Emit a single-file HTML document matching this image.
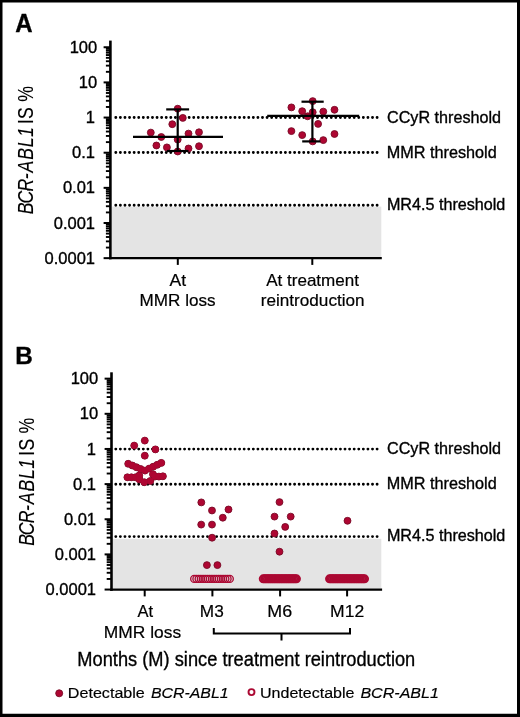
<!DOCTYPE html>
<html><head><meta charset="utf-8"><style>
html,body{margin:0;padding:0;background:#fff;}
svg{display:block;}
text{font-family:"Liberation Sans",sans-serif;fill:#000;font-kerning:none;stroke:#000;stroke-width:0.35px;}
</style></head><body>
<svg style="will-change:transform" width="520" height="717" viewBox="0 0 520 717">
<rect x="0" y="0" width="520" height="717" fill="#fff"/>
<text x="15.20" y="32.20" font-size="26.3" textLength="17.33" lengthAdjust="spacingAndGlyphs"><tspan font-weight="bold">A</tspan></text>
<rect x="112" y="206.6" width="269.3" height="51" fill="#e4e4e4"/>
<line x1="115.8" y1="117.5" x2="377.6" y2="117.5" stroke="#000" stroke-width="2.9" stroke-linecap="round" stroke-dasharray="0 4.5842"/>
<line x1="115.8" y1="152.5" x2="377.6" y2="152.5" stroke="#000" stroke-width="2.9" stroke-linecap="round" stroke-dasharray="0 4.5842"/>
<line x1="115.8" y1="205.3" x2="377.6" y2="205.3" stroke="#000" stroke-width="2.9" stroke-linecap="round" stroke-dasharray="0 4.5842"/>
<circle cx="177.7" cy="108.7" r="3.45" fill="#ae0632" stroke="#780a26" stroke-width="0.9"/>
<circle cx="182.8" cy="117.9" r="3.45" fill="#ae0632" stroke="#780a26" stroke-width="0.9"/>
<circle cx="172.3" cy="124.2" r="3.45" fill="#ae0632" stroke="#780a26" stroke-width="0.9"/>
<circle cx="150.8" cy="132.6" r="3.45" fill="#ae0632" stroke="#780a26" stroke-width="0.9"/>
<circle cx="161.3" cy="137.0" r="3.45" fill="#ae0632" stroke="#780a26" stroke-width="0.9"/>
<circle cx="177.7" cy="139.6" r="3.45" fill="#ae0632" stroke="#780a26" stroke-width="0.9"/>
<circle cx="188.5" cy="133.6" r="3.45" fill="#ae0632" stroke="#780a26" stroke-width="0.9"/>
<circle cx="199.0" cy="132.3" r="3.45" fill="#ae0632" stroke="#780a26" stroke-width="0.9"/>
<circle cx="156.4" cy="145.5" r="3.45" fill="#ae0632" stroke="#780a26" stroke-width="0.9"/>
<circle cx="166.9" cy="147.4" r="3.45" fill="#ae0632" stroke="#780a26" stroke-width="0.9"/>
<circle cx="177.7" cy="151.5" r="3.45" fill="#ae0632" stroke="#780a26" stroke-width="0.9"/>
<circle cx="188.5" cy="148.5" r="3.45" fill="#ae0632" stroke="#780a26" stroke-width="0.9"/>
<circle cx="199.0" cy="146.2" r="3.45" fill="#ae0632" stroke="#780a26" stroke-width="0.9"/>
<circle cx="312.7" cy="101.1" r="3.45" fill="#ae0632" stroke="#780a26" stroke-width="0.9"/>
<circle cx="291.4" cy="107.4" r="3.45" fill="#ae0632" stroke="#780a26" stroke-width="0.9"/>
<circle cx="302.2" cy="111.2" r="3.45" fill="#ae0632" stroke="#780a26" stroke-width="0.9"/>
<circle cx="312.7" cy="112.2" r="3.45" fill="#ae0632" stroke="#780a26" stroke-width="0.9"/>
<circle cx="323.3" cy="111.6" r="3.45" fill="#ae0632" stroke="#780a26" stroke-width="0.9"/>
<circle cx="334.5" cy="109.8" r="3.45" fill="#ae0632" stroke="#780a26" stroke-width="0.9"/>
<circle cx="307.6" cy="116.3" r="3.45" fill="#ae0632" stroke="#780a26" stroke-width="0.9"/>
<circle cx="318.1" cy="123.9" r="3.45" fill="#ae0632" stroke="#780a26" stroke-width="0.9"/>
<circle cx="291.4" cy="131.1" r="3.45" fill="#ae0632" stroke="#780a26" stroke-width="0.9"/>
<circle cx="302.2" cy="135.1" r="3.45" fill="#ae0632" stroke="#780a26" stroke-width="0.9"/>
<circle cx="334.5" cy="134.0" r="3.45" fill="#ae0632" stroke="#780a26" stroke-width="0.9"/>
<circle cx="312.7" cy="141.4" r="3.45" fill="#ae0632" stroke="#780a26" stroke-width="0.9"/>
<circle cx="323.3" cy="140.1" r="3.45" fill="#ae0632" stroke="#780a26" stroke-width="0.9"/>
<g stroke="#000" stroke-width="2.2">
<line x1="177.7" y1="109.4" x2="177.7" y2="151" />
<line x1="166.2" y1="109.4" x2="189.1" y2="109.4" />
<line x1="166.9" y1="151" x2="188.5" y2="151" />
<line x1="133" y1="136.9" x2="223" y2="136.9" stroke-width="2.4"/>
<line x1="312.4" y1="101.7" x2="312.4" y2="141.4" />
<line x1="301.5" y1="101.7" x2="323.7" y2="101.7" />
<line x1="302.2" y1="141.4" x2="320.4" y2="141.4" />
<line x1="267.2" y1="115.9" x2="359.2" y2="115.9" stroke-width="2.4"/>
</g>
<line x1="110.4" y1="40.6" x2="110.4" y2="259.3" stroke="#000" stroke-width="2.6"/>
<line x1="103.6" y1="258.15" x2="110.4" y2="258.15" stroke="#000" stroke-width="2"/>
<line x1="105.9" y1="247.57" x2="110.4" y2="247.57" stroke="#000" stroke-width="1.9"/>
<line x1="105.9" y1="241.38" x2="110.4" y2="241.38" stroke="#000" stroke-width="1.9"/>
<line x1="105.9" y1="236.99" x2="110.4" y2="236.99" stroke="#000" stroke-width="1.9"/>
<line x1="105.9" y1="233.58" x2="110.4" y2="233.58" stroke="#000" stroke-width="1.9"/>
<line x1="105.9" y1="230.80" x2="110.4" y2="230.80" stroke="#000" stroke-width="1.9"/>
<line x1="105.9" y1="228.44" x2="110.4" y2="228.44" stroke="#000" stroke-width="1.9"/>
<line x1="105.9" y1="226.41" x2="110.4" y2="226.41" stroke="#000" stroke-width="1.9"/>
<line x1="105.9" y1="224.61" x2="110.4" y2="224.61" stroke="#000" stroke-width="1.9"/>
<line x1="103.6" y1="223.00" x2="110.4" y2="223.00" stroke="#000" stroke-width="2"/>
<line x1="105.9" y1="212.42" x2="110.4" y2="212.42" stroke="#000" stroke-width="1.9"/>
<line x1="105.9" y1="206.23" x2="110.4" y2="206.23" stroke="#000" stroke-width="1.9"/>
<line x1="105.9" y1="201.84" x2="110.4" y2="201.84" stroke="#000" stroke-width="1.9"/>
<line x1="105.9" y1="198.43" x2="110.4" y2="198.43" stroke="#000" stroke-width="1.9"/>
<line x1="105.9" y1="195.65" x2="110.4" y2="195.65" stroke="#000" stroke-width="1.9"/>
<line x1="105.9" y1="193.29" x2="110.4" y2="193.29" stroke="#000" stroke-width="1.9"/>
<line x1="105.9" y1="191.26" x2="110.4" y2="191.26" stroke="#000" stroke-width="1.9"/>
<line x1="105.9" y1="189.46" x2="110.4" y2="189.46" stroke="#000" stroke-width="1.9"/>
<line x1="103.6" y1="187.85" x2="110.4" y2="187.85" stroke="#000" stroke-width="2"/>
<line x1="105.9" y1="177.27" x2="110.4" y2="177.27" stroke="#000" stroke-width="1.9"/>
<line x1="105.9" y1="171.08" x2="110.4" y2="171.08" stroke="#000" stroke-width="1.9"/>
<line x1="105.9" y1="166.69" x2="110.4" y2="166.69" stroke="#000" stroke-width="1.9"/>
<line x1="105.9" y1="163.28" x2="110.4" y2="163.28" stroke="#000" stroke-width="1.9"/>
<line x1="105.9" y1="160.50" x2="110.4" y2="160.50" stroke="#000" stroke-width="1.9"/>
<line x1="105.9" y1="158.14" x2="110.4" y2="158.14" stroke="#000" stroke-width="1.9"/>
<line x1="105.9" y1="156.11" x2="110.4" y2="156.11" stroke="#000" stroke-width="1.9"/>
<line x1="105.9" y1="154.31" x2="110.4" y2="154.31" stroke="#000" stroke-width="1.9"/>
<line x1="103.6" y1="152.70" x2="110.4" y2="152.70" stroke="#000" stroke-width="2"/>
<line x1="105.9" y1="142.12" x2="110.4" y2="142.12" stroke="#000" stroke-width="1.9"/>
<line x1="105.9" y1="135.93" x2="110.4" y2="135.93" stroke="#000" stroke-width="1.9"/>
<line x1="105.9" y1="131.54" x2="110.4" y2="131.54" stroke="#000" stroke-width="1.9"/>
<line x1="105.9" y1="128.13" x2="110.4" y2="128.13" stroke="#000" stroke-width="1.9"/>
<line x1="105.9" y1="125.35" x2="110.4" y2="125.35" stroke="#000" stroke-width="1.9"/>
<line x1="105.9" y1="122.99" x2="110.4" y2="122.99" stroke="#000" stroke-width="1.9"/>
<line x1="105.9" y1="120.96" x2="110.4" y2="120.96" stroke="#000" stroke-width="1.9"/>
<line x1="105.9" y1="119.16" x2="110.4" y2="119.16" stroke="#000" stroke-width="1.9"/>
<line x1="103.6" y1="117.55" x2="110.4" y2="117.55" stroke="#000" stroke-width="2"/>
<line x1="105.9" y1="106.97" x2="110.4" y2="106.97" stroke="#000" stroke-width="1.9"/>
<line x1="105.9" y1="100.78" x2="110.4" y2="100.78" stroke="#000" stroke-width="1.9"/>
<line x1="105.9" y1="96.39" x2="110.4" y2="96.39" stroke="#000" stroke-width="1.9"/>
<line x1="105.9" y1="92.98" x2="110.4" y2="92.98" stroke="#000" stroke-width="1.9"/>
<line x1="105.9" y1="90.20" x2="110.4" y2="90.20" stroke="#000" stroke-width="1.9"/>
<line x1="105.9" y1="87.84" x2="110.4" y2="87.84" stroke="#000" stroke-width="1.9"/>
<line x1="105.9" y1="85.81" x2="110.4" y2="85.81" stroke="#000" stroke-width="1.9"/>
<line x1="105.9" y1="84.01" x2="110.4" y2="84.01" stroke="#000" stroke-width="1.9"/>
<line x1="103.6" y1="82.40" x2="110.4" y2="82.40" stroke="#000" stroke-width="2"/>
<line x1="105.9" y1="71.82" x2="110.4" y2="71.82" stroke="#000" stroke-width="1.9"/>
<line x1="105.9" y1="65.63" x2="110.4" y2="65.63" stroke="#000" stroke-width="1.9"/>
<line x1="105.9" y1="61.24" x2="110.4" y2="61.24" stroke="#000" stroke-width="1.9"/>
<line x1="105.9" y1="57.83" x2="110.4" y2="57.83" stroke="#000" stroke-width="1.9"/>
<line x1="105.9" y1="55.05" x2="110.4" y2="55.05" stroke="#000" stroke-width="1.9"/>
<line x1="105.9" y1="52.69" x2="110.4" y2="52.69" stroke="#000" stroke-width="1.9"/>
<line x1="105.9" y1="50.66" x2="110.4" y2="50.66" stroke="#000" stroke-width="1.9"/>
<line x1="105.9" y1="48.86" x2="110.4" y2="48.86" stroke="#000" stroke-width="1.9"/>
<line x1="103.6" y1="47.25" x2="110.4" y2="47.25" stroke="#000" stroke-width="2"/>
<line x1="109.10000000000001" y1="258.1" x2="381.8" y2="258.1" stroke="#000" stroke-width="2.4"/>
<line x1="177.8" y1="258.1" x2="177.8" y2="264.90000000000003" stroke="#000" stroke-width="2"/>
<line x1="312.3" y1="258.1" x2="312.3" y2="264.90000000000003" stroke="#000" stroke-width="2"/>
<text x="97.2" y="52.85" text-anchor="end" font-size="16.5">100</text>
<text x="97.2" y="88.00" text-anchor="end" font-size="16.5">10</text>
<text x="95.0" y="123.15" text-anchor="end" font-size="16.5">1</text>
<text x="95.0" y="158.30" text-anchor="end" font-size="16.5">0.1</text>
<text x="95.0" y="193.45" text-anchor="end" font-size="16.5">0.01</text>
<text x="95.0" y="228.60" text-anchor="end" font-size="16.5">0.001</text>
<text x="95.0" y="263.75" text-anchor="end" font-size="16.5">0.0001</text>
<text x="386.98" y="122.80" font-size="16.6" textLength="114.06" lengthAdjust="spacingAndGlyphs">CCyR threshold</text>
<text x="386.87" y="157.70" font-size="16.6" textLength="109.87" lengthAdjust="spacingAndGlyphs">MMR threshold</text>
<text x="386.88" y="210.00" font-size="16.6" textLength="118.47" lengthAdjust="spacingAndGlyphs">MR4.5 threshold</text>
<text x="169.57" y="286.10" font-size="17.0" textLength="16.56" lengthAdjust="spacingAndGlyphs" style="stroke-width:0.2px">At</text>
<text x="139.60" y="306.00" font-size="17.0" textLength="76.02" lengthAdjust="spacingAndGlyphs" style="stroke-width:0.2px">MMR loss</text>
<text x="266.17" y="286.10" font-size="17.0" textLength="92.86" lengthAdjust="spacingAndGlyphs" style="stroke-width:0.2px">At treatment</text>
<text x="260.76" y="306.00" font-size="17.0" textLength="103.85" lengthAdjust="spacingAndGlyphs" style="stroke-width:0.2px">reintroduction</text>
<g transform="translate(32.8,213.5) rotate(-90) scale(0.81,1)" font-size="21.8" style="stroke-width:0.12px"><text x="-0.81" y="0" font-style="italic" style="stroke-width:0.1px">B</text><text x="12.21" y="0" font-style="italic" style="stroke-width:0.1px">C</text><text x="27.07" y="0" font-style="italic" style="stroke-width:0.1px">R</text><text x="42.17" y="0" font-style="italic" style="stroke-width:0.1px">-</text><text x="50.64" y="0" font-style="italic" style="stroke-width:0.1px">A</text><text x="66.35" y="0" font-style="italic" style="stroke-width:0.1px">B</text><text x="81.65" y="0" font-style="italic" style="stroke-width:0.1px">L</text><text x="94.51" y="0" font-style="italic" style="stroke-width:0.1px">1</text><text x="110.55" y="0" style="stroke-width:0.1px">I</text><text x="116.81" y="0" style="stroke-width:0.1px">S</text><text x="137.96" y="0" style="stroke-width:0.1px">%</text></g>
<text x="15.28" y="364.20" font-size="24.6" textLength="17.53" lengthAdjust="spacingAndGlyphs"><tspan font-weight="bold">B</tspan></text>
<rect x="113" y="538.8" width="268.3" height="49.6" fill="#e4e4e4"/>
<line x1="115.8" y1="449.1" x2="377.6" y2="449.1" stroke="#000" stroke-width="2.9" stroke-linecap="round" stroke-dasharray="0 4.5842"/>
<line x1="115.8" y1="484.2" x2="377.6" y2="484.2" stroke="#000" stroke-width="2.9" stroke-linecap="round" stroke-dasharray="0 4.5842"/>
<line x1="115.8" y1="536.6" x2="377.6" y2="536.6" stroke="#000" stroke-width="2.9" stroke-linecap="round" stroke-dasharray="0 4.5842"/>
<circle cx="144.8" cy="440.6" r="3.45" fill="#780a26" stroke="#780a26" stroke-width="0.9"/>
<circle cx="134.2" cy="445.6" r="3.45" fill="#780a26" stroke="#780a26" stroke-width="0.9"/>
<circle cx="155.4" cy="449.4" r="3.45" fill="#780a26" stroke="#780a26" stroke-width="0.9"/>
<circle cx="144.8" cy="455.7" r="3.45" fill="#780a26" stroke="#780a26" stroke-width="0.9"/>
<circle cx="128.2" cy="463.8" r="3.45" fill="#780a26" stroke="#780a26" stroke-width="0.9"/>
<circle cx="132.3" cy="465.5" r="3.45" fill="#780a26" stroke="#780a26" stroke-width="0.9"/>
<circle cx="136.4" cy="467.2" r="3.45" fill="#780a26" stroke="#780a26" stroke-width="0.9"/>
<circle cx="140.6" cy="469.0" r="3.45" fill="#780a26" stroke="#780a26" stroke-width="0.9"/>
<circle cx="145.0" cy="470.6" r="3.45" fill="#780a26" stroke="#780a26" stroke-width="0.9"/>
<circle cx="149.1" cy="468.6" r="3.45" fill="#780a26" stroke="#780a26" stroke-width="0.9"/>
<circle cx="153.2" cy="466.7" r="3.45" fill="#780a26" stroke="#780a26" stroke-width="0.9"/>
<circle cx="157.3" cy="464.8" r="3.45" fill="#780a26" stroke="#780a26" stroke-width="0.9"/>
<circle cx="161.3" cy="462.9" r="3.45" fill="#780a26" stroke="#780a26" stroke-width="0.9"/>
<circle cx="127.4" cy="477.3" r="3.45" fill="#780a26" stroke="#780a26" stroke-width="0.9"/>
<circle cx="131.4" cy="477.3" r="3.45" fill="#780a26" stroke="#780a26" stroke-width="0.9"/>
<circle cx="135.4" cy="477.3" r="3.45" fill="#780a26" stroke="#780a26" stroke-width="0.9"/>
<circle cx="139.2" cy="475.5" r="3.45" fill="#780a26" stroke="#780a26" stroke-width="0.9"/>
<circle cx="139.5" cy="479.5" r="3.45" fill="#780a26" stroke="#780a26" stroke-width="0.9"/>
<circle cx="144.3" cy="482.2" r="3.45" fill="#780a26" stroke="#780a26" stroke-width="0.9"/>
<circle cx="150.3" cy="481.0" r="3.45" fill="#780a26" stroke="#780a26" stroke-width="0.9"/>
<circle cx="153.0" cy="474.3" r="3.45" fill="#780a26" stroke="#780a26" stroke-width="0.9"/>
<circle cx="154.8" cy="476.6" r="3.45" fill="#780a26" stroke="#780a26" stroke-width="0.9"/>
<circle cx="158.9" cy="476.6" r="3.45" fill="#780a26" stroke="#780a26" stroke-width="0.9"/>
<circle cx="162.9" cy="476.3" r="3.45" fill="#780a26" stroke="#780a26" stroke-width="0.9"/>
<circle cx="144.8" cy="440.6" r="3.3" fill="#ae0632"/>
<circle cx="134.2" cy="445.6" r="3.3" fill="#ae0632"/>
<circle cx="155.4" cy="449.4" r="3.3" fill="#ae0632"/>
<circle cx="144.8" cy="455.7" r="3.3" fill="#ae0632"/>
<circle cx="128.2" cy="463.8" r="3.3" fill="#ae0632"/>
<circle cx="132.3" cy="465.5" r="3.3" fill="#ae0632"/>
<circle cx="136.4" cy="467.2" r="3.3" fill="#ae0632"/>
<circle cx="140.6" cy="469.0" r="3.3" fill="#ae0632"/>
<circle cx="145.0" cy="470.6" r="3.3" fill="#ae0632"/>
<circle cx="149.1" cy="468.6" r="3.3" fill="#ae0632"/>
<circle cx="153.2" cy="466.7" r="3.3" fill="#ae0632"/>
<circle cx="157.3" cy="464.8" r="3.3" fill="#ae0632"/>
<circle cx="161.3" cy="462.9" r="3.3" fill="#ae0632"/>
<circle cx="127.4" cy="477.3" r="3.3" fill="#ae0632"/>
<circle cx="131.4" cy="477.3" r="3.3" fill="#ae0632"/>
<circle cx="135.4" cy="477.3" r="3.3" fill="#ae0632"/>
<circle cx="139.2" cy="475.5" r="3.3" fill="#ae0632"/>
<circle cx="139.5" cy="479.5" r="3.3" fill="#ae0632"/>
<circle cx="144.3" cy="482.2" r="3.3" fill="#ae0632"/>
<circle cx="150.3" cy="481.0" r="3.3" fill="#ae0632"/>
<circle cx="153.0" cy="474.3" r="3.3" fill="#ae0632"/>
<circle cx="154.8" cy="476.6" r="3.3" fill="#ae0632"/>
<circle cx="158.9" cy="476.6" r="3.3" fill="#ae0632"/>
<circle cx="162.9" cy="476.3" r="3.3" fill="#ae0632"/>
<circle cx="201.3" cy="502.4" r="3.45" fill="#ae0632" stroke="#780a26" stroke-width="0.9"/>
<circle cx="212.0" cy="510.5" r="3.45" fill="#ae0632" stroke="#780a26" stroke-width="0.9"/>
<circle cx="228.5" cy="509.5" r="3.45" fill="#ae0632" stroke="#780a26" stroke-width="0.9"/>
<circle cx="222.8" cy="517.7" r="3.45" fill="#ae0632" stroke="#780a26" stroke-width="0.9"/>
<circle cx="201.2" cy="524.6" r="3.45" fill="#ae0632" stroke="#780a26" stroke-width="0.9"/>
<circle cx="212.0" cy="524.6" r="3.45" fill="#ae0632" stroke="#780a26" stroke-width="0.9"/>
<circle cx="212.1" cy="537.7" r="3.45" fill="#ae0632" stroke="#780a26" stroke-width="0.9"/>
<circle cx="206.9" cy="565.1" r="3.45" fill="#ae0632" stroke="#780a26" stroke-width="0.9"/>
<circle cx="217.4" cy="565.1" r="3.45" fill="#ae0632" stroke="#780a26" stroke-width="0.9"/>
<circle cx="279.5" cy="502.1" r="3.45" fill="#ae0632" stroke="#780a26" stroke-width="0.9"/>
<circle cx="274.5" cy="516.6" r="3.45" fill="#ae0632" stroke="#780a26" stroke-width="0.9"/>
<circle cx="290.7" cy="516.6" r="3.45" fill="#ae0632" stroke="#780a26" stroke-width="0.9"/>
<circle cx="285.2" cy="526.9" r="3.45" fill="#ae0632" stroke="#780a26" stroke-width="0.9"/>
<circle cx="274.5" cy="533.5" r="3.45" fill="#ae0632" stroke="#780a26" stroke-width="0.9"/>
<circle cx="279.5" cy="551.7" r="3.45" fill="#ae0632" stroke="#780a26" stroke-width="0.9"/>
<circle cx="347.5" cy="520.8" r="3.45" fill="#ae0632" stroke="#780a26" stroke-width="0.9"/>
<circle cx="194.20" cy="578.90" r="3.5" fill="none" stroke="#ab0832" stroke-width="1.35"/>
<circle cx="196.42" cy="578.90" r="3.5" fill="none" stroke="#ab0832" stroke-width="1.35"/>
<circle cx="198.65" cy="578.90" r="3.5" fill="none" stroke="#ab0832" stroke-width="1.35"/>
<circle cx="200.88" cy="578.90" r="3.5" fill="none" stroke="#ab0832" stroke-width="1.35"/>
<circle cx="203.10" cy="578.90" r="3.5" fill="none" stroke="#ab0832" stroke-width="1.35"/>
<circle cx="205.32" cy="578.90" r="3.5" fill="none" stroke="#ab0832" stroke-width="1.35"/>
<circle cx="207.55" cy="578.90" r="3.5" fill="none" stroke="#ab0832" stroke-width="1.35"/>
<circle cx="209.78" cy="578.90" r="3.5" fill="none" stroke="#ab0832" stroke-width="1.35"/>
<circle cx="212.00" cy="578.90" r="3.5" fill="none" stroke="#ab0832" stroke-width="1.35"/>
<circle cx="214.22" cy="578.90" r="3.5" fill="none" stroke="#ab0832" stroke-width="1.35"/>
<circle cx="216.45" cy="578.90" r="3.5" fill="none" stroke="#ab0832" stroke-width="1.35"/>
<circle cx="218.68" cy="578.90" r="3.5" fill="none" stroke="#ab0832" stroke-width="1.35"/>
<circle cx="220.90" cy="578.90" r="3.5" fill="none" stroke="#ab0832" stroke-width="1.35"/>
<circle cx="223.12" cy="578.90" r="3.5" fill="none" stroke="#ab0832" stroke-width="1.35"/>
<circle cx="225.35" cy="578.90" r="3.5" fill="none" stroke="#ab0832" stroke-width="1.35"/>
<circle cx="227.58" cy="578.90" r="3.5" fill="none" stroke="#ab0832" stroke-width="1.35"/>
<circle cx="229.80" cy="578.90" r="3.5" fill="none" stroke="#ab0832" stroke-width="1.35"/>
<circle cx="263.20" cy="578.80" r="3.5" fill="none" stroke="#ab0832" stroke-width="1.9"/>
<circle cx="264.59" cy="578.80" r="3.5" fill="none" stroke="#ab0832" stroke-width="1.9"/>
<circle cx="265.97" cy="578.80" r="3.5" fill="none" stroke="#ab0832" stroke-width="1.9"/>
<circle cx="267.36" cy="578.80" r="3.5" fill="none" stroke="#ab0832" stroke-width="1.9"/>
<circle cx="268.75" cy="578.80" r="3.5" fill="none" stroke="#ab0832" stroke-width="1.9"/>
<circle cx="270.14" cy="578.80" r="3.5" fill="none" stroke="#ab0832" stroke-width="1.9"/>
<circle cx="271.52" cy="578.80" r="3.5" fill="none" stroke="#ab0832" stroke-width="1.9"/>
<circle cx="272.91" cy="578.80" r="3.5" fill="none" stroke="#ab0832" stroke-width="1.9"/>
<circle cx="274.30" cy="578.80" r="3.5" fill="none" stroke="#ab0832" stroke-width="1.9"/>
<circle cx="275.69" cy="578.80" r="3.5" fill="none" stroke="#ab0832" stroke-width="1.9"/>
<circle cx="277.07" cy="578.80" r="3.5" fill="none" stroke="#ab0832" stroke-width="1.9"/>
<circle cx="278.46" cy="578.80" r="3.5" fill="none" stroke="#ab0832" stroke-width="1.9"/>
<circle cx="279.85" cy="578.80" r="3.5" fill="none" stroke="#ab0832" stroke-width="1.9"/>
<circle cx="281.24" cy="578.80" r="3.5" fill="none" stroke="#ab0832" stroke-width="1.9"/>
<circle cx="282.62" cy="578.80" r="3.5" fill="none" stroke="#ab0832" stroke-width="1.9"/>
<circle cx="284.01" cy="578.80" r="3.5" fill="none" stroke="#ab0832" stroke-width="1.9"/>
<circle cx="285.40" cy="578.80" r="3.5" fill="none" stroke="#ab0832" stroke-width="1.9"/>
<circle cx="286.79" cy="578.80" r="3.5" fill="none" stroke="#ab0832" stroke-width="1.9"/>
<circle cx="288.18" cy="578.80" r="3.5" fill="none" stroke="#ab0832" stroke-width="1.9"/>
<circle cx="289.56" cy="578.80" r="3.5" fill="none" stroke="#ab0832" stroke-width="1.9"/>
<circle cx="290.95" cy="578.80" r="3.5" fill="none" stroke="#ab0832" stroke-width="1.9"/>
<circle cx="292.34" cy="578.80" r="3.5" fill="none" stroke="#ab0832" stroke-width="1.9"/>
<circle cx="293.73" cy="578.80" r="3.5" fill="none" stroke="#ab0832" stroke-width="1.9"/>
<circle cx="295.11" cy="578.80" r="3.5" fill="none" stroke="#ab0832" stroke-width="1.9"/>
<circle cx="296.50" cy="578.80" r="3.5" fill="none" stroke="#ab0832" stroke-width="1.9"/>
<circle cx="329.50" cy="578.80" r="3.5" fill="none" stroke="#ab0832" stroke-width="1.9"/>
<circle cx="330.90" cy="578.80" r="3.5" fill="none" stroke="#ab0832" stroke-width="1.9"/>
<circle cx="332.31" cy="578.80" r="3.5" fill="none" stroke="#ab0832" stroke-width="1.9"/>
<circle cx="333.71" cy="578.80" r="3.5" fill="none" stroke="#ab0832" stroke-width="1.9"/>
<circle cx="335.12" cy="578.80" r="3.5" fill="none" stroke="#ab0832" stroke-width="1.9"/>
<circle cx="336.52" cy="578.80" r="3.5" fill="none" stroke="#ab0832" stroke-width="1.9"/>
<circle cx="337.92" cy="578.80" r="3.5" fill="none" stroke="#ab0832" stroke-width="1.9"/>
<circle cx="339.33" cy="578.80" r="3.5" fill="none" stroke="#ab0832" stroke-width="1.9"/>
<circle cx="340.73" cy="578.80" r="3.5" fill="none" stroke="#ab0832" stroke-width="1.9"/>
<circle cx="342.14" cy="578.80" r="3.5" fill="none" stroke="#ab0832" stroke-width="1.9"/>
<circle cx="343.54" cy="578.80" r="3.5" fill="none" stroke="#ab0832" stroke-width="1.9"/>
<circle cx="344.94" cy="578.80" r="3.5" fill="none" stroke="#ab0832" stroke-width="1.9"/>
<circle cx="346.35" cy="578.80" r="3.5" fill="none" stroke="#ab0832" stroke-width="1.9"/>
<circle cx="347.75" cy="578.80" r="3.5" fill="none" stroke="#ab0832" stroke-width="1.9"/>
<circle cx="349.16" cy="578.80" r="3.5" fill="none" stroke="#ab0832" stroke-width="1.9"/>
<circle cx="350.56" cy="578.80" r="3.5" fill="none" stroke="#ab0832" stroke-width="1.9"/>
<circle cx="351.96" cy="578.80" r="3.5" fill="none" stroke="#ab0832" stroke-width="1.9"/>
<circle cx="353.37" cy="578.80" r="3.5" fill="none" stroke="#ab0832" stroke-width="1.9"/>
<circle cx="354.77" cy="578.80" r="3.5" fill="none" stroke="#ab0832" stroke-width="1.9"/>
<circle cx="356.18" cy="578.80" r="3.5" fill="none" stroke="#ab0832" stroke-width="1.9"/>
<circle cx="357.58" cy="578.80" r="3.5" fill="none" stroke="#ab0832" stroke-width="1.9"/>
<circle cx="358.98" cy="578.80" r="3.5" fill="none" stroke="#ab0832" stroke-width="1.9"/>
<circle cx="360.39" cy="578.80" r="3.5" fill="none" stroke="#ab0832" stroke-width="1.9"/>
<circle cx="361.79" cy="578.80" r="3.5" fill="none" stroke="#ab0832" stroke-width="1.9"/>
<circle cx="363.20" cy="578.80" r="3.5" fill="none" stroke="#ab0832" stroke-width="1.9"/>
<circle cx="364.60" cy="578.80" r="3.5" fill="none" stroke="#ab0832" stroke-width="1.9"/>
<line x1="111.5" y1="372.3" x2="111.5" y2="590.8000000000001" stroke="#000" stroke-width="2.6"/>
<line x1="104.6" y1="589.55" x2="111.5" y2="589.55" stroke="#000" stroke-width="2"/>
<line x1="106.7" y1="578.97" x2="111.5" y2="578.97" stroke="#000" stroke-width="1.9"/>
<line x1="106.7" y1="572.78" x2="111.5" y2="572.78" stroke="#000" stroke-width="1.9"/>
<line x1="106.7" y1="568.39" x2="111.5" y2="568.39" stroke="#000" stroke-width="1.9"/>
<line x1="106.7" y1="564.98" x2="111.5" y2="564.98" stroke="#000" stroke-width="1.9"/>
<line x1="106.7" y1="562.20" x2="111.5" y2="562.20" stroke="#000" stroke-width="1.9"/>
<line x1="106.7" y1="559.84" x2="111.5" y2="559.84" stroke="#000" stroke-width="1.9"/>
<line x1="106.7" y1="557.81" x2="111.5" y2="557.81" stroke="#000" stroke-width="1.9"/>
<line x1="106.7" y1="556.01" x2="111.5" y2="556.01" stroke="#000" stroke-width="1.9"/>
<line x1="104.6" y1="554.40" x2="111.5" y2="554.40" stroke="#000" stroke-width="2"/>
<line x1="106.7" y1="543.82" x2="111.5" y2="543.82" stroke="#000" stroke-width="1.9"/>
<line x1="106.7" y1="537.63" x2="111.5" y2="537.63" stroke="#000" stroke-width="1.9"/>
<line x1="106.7" y1="533.24" x2="111.5" y2="533.24" stroke="#000" stroke-width="1.9"/>
<line x1="106.7" y1="529.83" x2="111.5" y2="529.83" stroke="#000" stroke-width="1.9"/>
<line x1="106.7" y1="527.05" x2="111.5" y2="527.05" stroke="#000" stroke-width="1.9"/>
<line x1="106.7" y1="524.69" x2="111.5" y2="524.69" stroke="#000" stroke-width="1.9"/>
<line x1="106.7" y1="522.66" x2="111.5" y2="522.66" stroke="#000" stroke-width="1.9"/>
<line x1="106.7" y1="520.86" x2="111.5" y2="520.86" stroke="#000" stroke-width="1.9"/>
<line x1="104.6" y1="519.25" x2="111.5" y2="519.25" stroke="#000" stroke-width="2"/>
<line x1="106.7" y1="508.67" x2="111.5" y2="508.67" stroke="#000" stroke-width="1.9"/>
<line x1="106.7" y1="502.48" x2="111.5" y2="502.48" stroke="#000" stroke-width="1.9"/>
<line x1="106.7" y1="498.09" x2="111.5" y2="498.09" stroke="#000" stroke-width="1.9"/>
<line x1="106.7" y1="494.68" x2="111.5" y2="494.68" stroke="#000" stroke-width="1.9"/>
<line x1="106.7" y1="491.90" x2="111.5" y2="491.90" stroke="#000" stroke-width="1.9"/>
<line x1="106.7" y1="489.54" x2="111.5" y2="489.54" stroke="#000" stroke-width="1.9"/>
<line x1="106.7" y1="487.51" x2="111.5" y2="487.51" stroke="#000" stroke-width="1.9"/>
<line x1="106.7" y1="485.71" x2="111.5" y2="485.71" stroke="#000" stroke-width="1.9"/>
<line x1="104.6" y1="484.10" x2="111.5" y2="484.10" stroke="#000" stroke-width="2"/>
<line x1="106.7" y1="473.52" x2="111.5" y2="473.52" stroke="#000" stroke-width="1.9"/>
<line x1="106.7" y1="467.33" x2="111.5" y2="467.33" stroke="#000" stroke-width="1.9"/>
<line x1="106.7" y1="462.94" x2="111.5" y2="462.94" stroke="#000" stroke-width="1.9"/>
<line x1="106.7" y1="459.53" x2="111.5" y2="459.53" stroke="#000" stroke-width="1.9"/>
<line x1="106.7" y1="456.75" x2="111.5" y2="456.75" stroke="#000" stroke-width="1.9"/>
<line x1="106.7" y1="454.39" x2="111.5" y2="454.39" stroke="#000" stroke-width="1.9"/>
<line x1="106.7" y1="452.36" x2="111.5" y2="452.36" stroke="#000" stroke-width="1.9"/>
<line x1="106.7" y1="450.56" x2="111.5" y2="450.56" stroke="#000" stroke-width="1.9"/>
<line x1="104.6" y1="448.95" x2="111.5" y2="448.95" stroke="#000" stroke-width="2"/>
<line x1="106.7" y1="438.37" x2="111.5" y2="438.37" stroke="#000" stroke-width="1.9"/>
<line x1="106.7" y1="432.18" x2="111.5" y2="432.18" stroke="#000" stroke-width="1.9"/>
<line x1="106.7" y1="427.79" x2="111.5" y2="427.79" stroke="#000" stroke-width="1.9"/>
<line x1="106.7" y1="424.38" x2="111.5" y2="424.38" stroke="#000" stroke-width="1.9"/>
<line x1="106.7" y1="421.60" x2="111.5" y2="421.60" stroke="#000" stroke-width="1.9"/>
<line x1="106.7" y1="419.24" x2="111.5" y2="419.24" stroke="#000" stroke-width="1.9"/>
<line x1="106.7" y1="417.21" x2="111.5" y2="417.21" stroke="#000" stroke-width="1.9"/>
<line x1="106.7" y1="415.41" x2="111.5" y2="415.41" stroke="#000" stroke-width="1.9"/>
<line x1="104.6" y1="413.80" x2="111.5" y2="413.80" stroke="#000" stroke-width="2"/>
<line x1="106.7" y1="403.22" x2="111.5" y2="403.22" stroke="#000" stroke-width="1.9"/>
<line x1="106.7" y1="397.03" x2="111.5" y2="397.03" stroke="#000" stroke-width="1.9"/>
<line x1="106.7" y1="392.64" x2="111.5" y2="392.64" stroke="#000" stroke-width="1.9"/>
<line x1="106.7" y1="389.23" x2="111.5" y2="389.23" stroke="#000" stroke-width="1.9"/>
<line x1="106.7" y1="386.45" x2="111.5" y2="386.45" stroke="#000" stroke-width="1.9"/>
<line x1="106.7" y1="384.09" x2="111.5" y2="384.09" stroke="#000" stroke-width="1.9"/>
<line x1="106.7" y1="382.06" x2="111.5" y2="382.06" stroke="#000" stroke-width="1.9"/>
<line x1="106.7" y1="380.26" x2="111.5" y2="380.26" stroke="#000" stroke-width="1.9"/>
<line x1="104.6" y1="378.65" x2="111.5" y2="378.65" stroke="#000" stroke-width="2"/>
<line x1="110.2" y1="589.6" x2="382.1" y2="589.6" stroke="#000" stroke-width="2.4"/>
<line x1="144.7" y1="589.6" x2="144.7" y2="596.4" stroke="#000" stroke-width="2"/>
<line x1="212.4" y1="589.6" x2="212.4" y2="596.4" stroke="#000" stroke-width="2"/>
<line x1="280.1" y1="589.6" x2="280.1" y2="596.4" stroke="#000" stroke-width="2"/>
<line x1="347.1" y1="589.6" x2="347.1" y2="596.4" stroke="#000" stroke-width="2"/>
<text x="98.2" y="384.25" text-anchor="end" font-size="16.5">100</text>
<text x="98.2" y="419.40" text-anchor="end" font-size="16.5">10</text>
<text x="96.0" y="454.55" text-anchor="end" font-size="16.5">1</text>
<text x="96.0" y="489.70" text-anchor="end" font-size="16.5">0.1</text>
<text x="96.0" y="524.85" text-anchor="end" font-size="16.5">0.01</text>
<text x="96.0" y="560.00" text-anchor="end" font-size="16.5">0.001</text>
<text x="96.0" y="595.15" text-anchor="end" font-size="16.5">0.0001</text>
<text x="386.98" y="454.10" font-size="16.6" textLength="114.06" lengthAdjust="spacingAndGlyphs">CCyR threshold</text>
<text x="386.87" y="489.00" font-size="16.6" textLength="109.87" lengthAdjust="spacingAndGlyphs">MMR threshold</text>
<text x="386.88" y="541.30" font-size="16.6" textLength="118.47" lengthAdjust="spacingAndGlyphs">MR4.5 threshold</text>
<text x="137.47" y="616.80" font-size="16.9" textLength="15.65" lengthAdjust="spacingAndGlyphs" style="stroke-width:0.2px">At</text>
<text x="103.87" y="638.10" font-size="16.9" textLength="77.25" lengthAdjust="spacingAndGlyphs" style="stroke-width:0.2px">MMR loss</text>
<text x="199.84" y="616.90" font-size="16.9" textLength="23.92" lengthAdjust="spacingAndGlyphs" style="stroke-width:0.2px">M3</text>
<text x="267.33" y="616.80" font-size="16.9" textLength="24.85" lengthAdjust="spacingAndGlyphs" style="stroke-width:0.2px">M6</text>
<text x="330.06" y="617.10" font-size="16.9" textLength="34.12" lengthAdjust="spacingAndGlyphs" style="stroke-width:0.2px">M12</text>
<path d="M213.8 628 V633.5 H350 V628 M281.5 633.5 V640.5" fill="none" stroke="#000" stroke-width="2"/>
<text x="77.30" y="665.70" font-size="21.0" textLength="337.98" lengthAdjust="spacingAndGlyphs">Months (M) since treatment reintroduction</text>
<g transform="translate(33.9,545.2) rotate(-90) scale(0.81,1)" font-size="21.8" style="stroke-width:0.12px"><text x="-0.81" y="0" font-style="italic" style="stroke-width:0.1px">B</text><text x="12.21" y="0" font-style="italic" style="stroke-width:0.1px">C</text><text x="27.07" y="0" font-style="italic" style="stroke-width:0.1px">R</text><text x="42.17" y="0" font-style="italic" style="stroke-width:0.1px">-</text><text x="50.64" y="0" font-style="italic" style="stroke-width:0.1px">A</text><text x="66.35" y="0" font-style="italic" style="stroke-width:0.1px">B</text><text x="81.65" y="0" font-style="italic" style="stroke-width:0.1px">L</text><text x="94.51" y="0" font-style="italic" style="stroke-width:0.1px">1</text><text x="110.55" y="0" style="stroke-width:0.1px">I</text><text x="116.81" y="0" style="stroke-width:0.1px">S</text><text x="137.96" y="0" style="stroke-width:0.1px">%</text></g>
<circle cx="59.2" cy="693.3" r="3.5" fill="#ae0632" stroke="#780a26" stroke-width="0.9"/>
<text x="67.88" y="698.10" font-size="15.5" textLength="76.94" lengthAdjust="spacingAndGlyphs" style="stroke-width:0.18px">Detectable</text>
<text x="150.91" y="698.10" font-size="15.5" textLength="77.73" lengthAdjust="spacingAndGlyphs" style="stroke-width:0.18px"><tspan font-style="italic">BCR-ABL1</tspan></text>
<circle cx="251.5" cy="692.1" r="3.0" fill="none" stroke="#ab0832" stroke-width="1.9"/>
<text x="260.06" y="698.10" font-size="15.5" textLength="94.45" lengthAdjust="spacingAndGlyphs" style="stroke-width:0.18px">Undetectable</text>
<text x="360.41" y="698.10" font-size="15.5" textLength="78.55" lengthAdjust="spacingAndGlyphs" style="stroke-width:0.18px"><tspan font-style="italic">BCR-ABL1</tspan></text>
<path d="M0 0H520V717H0Z M2.5 2.6 V713.8 H517 V2.6Z" fill="#000" fill-rule="evenodd"/>
</svg>
</body></html>
